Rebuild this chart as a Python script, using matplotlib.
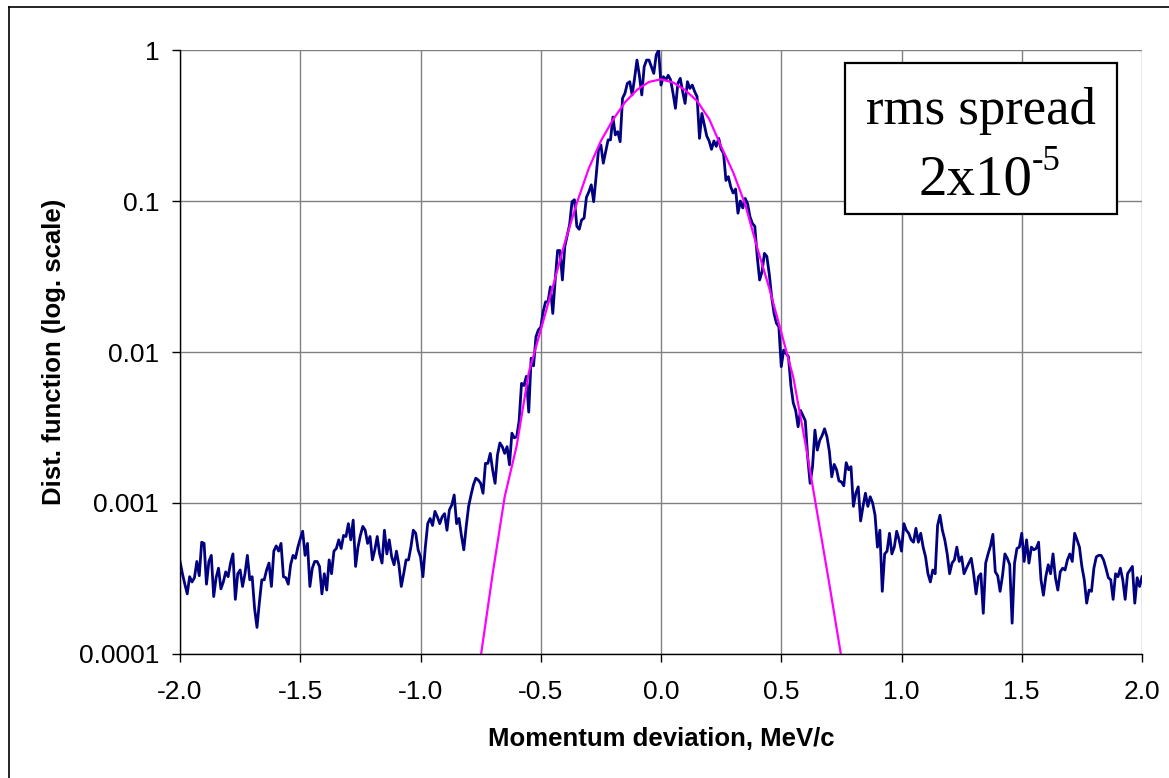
import numpy as np
import matplotlib
matplotlib.use("Agg")
import matplotlib.pyplot as plt
from matplotlib.patches import Rectangle
from matplotlib.lines import Line2D

plt.rcParams['font.family'] = ['Liberation Sans', 'DejaVu Sans']

# measured distribution, one value every 0.01 MeV/c from -2.0 to 2.0
p_start, p_step = -2.0, 0.01
dist_measured = [
    4.1e-4, 3.4e-4, 2.9e-4, 2.5e-4, 3.25e-4, 3.0e-4, 3.2e-4, 4.1e-4, 3.3e-4, 5.5e-4,
    5.4e-4, 2.9e-4, 4.1e-4, 4.5e-4, 2.4e-4, 3.2e-4, 3.7e-4, 2.7e-4, 3.0e-4, 3.5e-4,
    3.25e-4, 4.0e-4, 4.6e-4, 2.3e-4, 3.4e-4, 3.6e-4, 2.8e-4, 3.4e-4, 4.5e-4, 3.1e-4,
    3.25e-4, 2.0e-4, 1.5e-4, 2.2e-4, 3.1e-4, 3.1e-4, 3.6e-4, 4.0e-4, 2.8e-4, 4.8e-4,
    5.2e-4, 4.8e-4, 5.4e-4, 3.25e-4, 3.2e-4, 2.9e-4, 3.9e-4, 4.5e-4, 4.3e-4, 5.1e-4,
    5.8e-4, 6.5e-4, 4.5e-4, 5.4e-4, 2.8e-4, 3.7e-4, 4.1e-4, 4.1e-4, 3.8e-4, 2.5e-4,
    3.4e-4, 2.65e-4, 4.2e-4, 3.4e-4, 4.8e-4, 5.0e-4, 5.7e-4, 5.0e-4, 6.1e-4, 6.0e-4,
    7.3e-4, 5.7e-4, 7.7e-4, 3.8e-4, 5.1e-4, 6.1e-4, 7.0e-4, 6.6e-4, 5.4e-4, 6.0e-4,
    4.2e-4, 4.9e-4, 6.0e-4, 4.6e-4, 4.0e-4, 6.6e-4, 4.6e-4, 5.7e-4, 4.4e-4, 3.9e-4,
    4.8e-4, 3.9e-4, 2.8e-4, 3.4e-4, 4.2e-4, 4.2e-4, 5.1e-4, 6.6e-4, 6.3e-4, 4.9e-4,
    4.4e-4, 3.25e-4, 5.1e-4, 7.3e-4, 7.9e-4, 7.1e-4, 8.8e-4, 8.1e-4, 7.3e-4, 8.1e-4,
    8.5e-4, 6.6e-4, 9.0e-4, 9.7e-4, 1.13e-3, 7.3e-4, 7.9e-4, 6.1e-4, 4.9e-4, 7.0e-4,
    9.5e-4, 1.13e-3, 1.32e-3, 1.46e-3, 1.42e-3, 1.35e-3, 1.16e-3, 1.83e-3, 1.83e-3, 2.13e-3,
    1.65e-3, 1.35e-3, 2.08e-3, 2.5e-3, 2.36e-3, 2.13e-3, 2.36e-3, 1.79e-3, 2.9e-3, 2.7e-3,
    2.75e-3, 3.5e-3, 6.2e-3, 6.0e-3, 6.9e-3, 4.0e-3, 9.1e-3, 8.1e-3, 1.26e-2, 1.40e-2,
    1.46e-2, 1.85e-2, 2.15e-2, 2.15e-2, 2.7e-2, 1.8e-2, 3.0e-2, 4.7e-2, 4.7e-2, 3.0e-2,
    5.0e-2, 5.9e-2, 7.0e-2, 0.099, 0.102, 6.8e-2, 6.5e-2, 7.5e-2, 7.7e-2, 0.106,
    0.115, 0.128, 0.099, 0.145, 0.218, 0.235, 0.178, 0.212, 0.254, 0.254,
    0.36, 0.274, 0.288, 0.247, 0.479, 0.517, 0.601, 0.617, 0.504, 0.649,
    0.858, 0.68, 0.504, 0.775, 0.858, 0.858, 0.775, 0.70, 0.927, 1.0,
    0.586, 0.666, 0.633, 0.68, 0.633, 0.517, 0.411, 0.601, 0.649, 0.530,
    0.443, 0.617, 0.557, 0.586, 0.530, 0.491, 0.26, 0.38, 0.32, 0.27,
    0.25, 0.22, 0.25, 0.23, 0.26, 0.22, 0.207, 0.137, 0.145, 0.124,
    0.113, 0.12, 0.083, 0.10, 0.09, 0.104, 0.096, 0.0787, 0.071, 0.068,
    0.043, 0.030, 0.034, 0.045, 0.043, 0.033, 0.0232, 0.018, 0.0155, 0.0147,
    8.0e-3, 1.03e-2, 9.8e-3, 9.3e-3, 6.0e-3, 4.6e-3, 4.1e-3, 3.2e-3, 4.1e-3, 3.8e-3,
    3.5e-3, 2.0e-3, 1.35e-3, 1.74e-3, 3.04e-3, 2.24e-3, 2.6e-3, 2.8e-3, 3.1e-3, 2.75e-3,
    2.2e-3, 1.49e-3, 1.8e-3, 1.66e-3, 1.4e-3, 1.38e-3, 1.3e-3, 1.85e-3, 1.66e-3, 1.74e-3,
    9.5e-4, 1.16e-3, 1.28e-3, 7.6e-4, 9.5e-4, 1.16e-3, 9.5e-4, 1.1e-3, 1.0e-3, 8.3e-4,
    5.1e-4, 6.6e-4, 2.6e-4, 4.6e-4, 4.8e-4, 6.3e-4, 4.6e-4, 5.1e-4, 6.5e-4, 5.7e-4,
    4.8e-4, 7.3e-4, 6.6e-4, 6.3e-4, 5.7e-4, 5.5e-4, 6.8e-4, 5.5e-4, 6.3e-4, 5.1e-4,
    4.4e-4, 3.4e-4, 3.0e-4, 3.6e-4, 3.4e-4, 7.1e-4, 8.3e-4, 6.6e-4, 5.7e-4, 4.6e-4,
    3.4e-4, 4.0e-4, 4.2e-4, 5.1e-4, 4.1e-4, 4.4e-4, 3.4e-4, 3.7e-4, 4.0e-4, 4.3e-4,
    3.4e-4, 2.5e-4, 3.25e-4, 3.4e-4, 1.86e-4, 4.0e-4, 4.6e-4, 5.2e-4, 6.2e-4, 3.5e-4,
    3.3e-4, 2.6e-4, 3.3e-4, 4.6e-4, 4.3e-4, 3.9e-4, 1.6e-4, 4.0e-4, 5.0e-4, 5.1e-4,
    6.3e-4, 4.1e-4, 5.7e-4, 4.0e-4, 5.1e-4, 4.9e-4, 5.0e-4, 5.5e-4, 3.1e-4, 2.45e-4,
    3.25e-4, 3.9e-4, 3.4e-4, 4.6e-4, 3.2e-4, 2.65e-4, 3.5e-4, 3.7e-4, 3.6e-4, 4.2e-4,
    4.6e-4, 4.1e-4, 6.3e-4, 5.7e-4, 5.1e-4, 3.8e-4, 3.1e-4, 2.17e-4, 2.65e-4, 2.6e-4,
    3.7e-4, 4.4e-4, 4.5e-4, 4.5e-4, 4.2e-4, 3.7e-4, 3.2e-4, 3.1e-4, 2.3e-4, 3.4e-4,
    3.25e-4, 3.7e-4, 3.1e-4, 2.3e-4, 3.4e-4, 3.6e-4, 3.8e-4, 2.17e-4, 3.2e-4, 2.8e-4, 3.25e-4,
]

# fitted curve, read every 0.05 MeV/c from -0.75 to 0.75
fit_momentum = [-0.75, -0.70, -0.65, -0.60, -0.55, -0.50, -0.45, -0.40, -0.35, -0.30, -0.25,
                -0.20, -0.15, -0.10, -0.05, 0.00, 0.05, 0.10, 0.15, 0.20, 0.25,
                0.30, 0.35, 0.40, 0.45, 0.50, 0.55, 0.60, 0.65, 0.70, 0.75]
dist_fit = [9.5e-5, 3.4e-4, 1.1e-3, 2.4e-3, 7.3e-3, 1.4e-2, 2.7e-2, 5.3e-2, 0.097, 0.165, 0.25,
            0.345, 0.45, 0.545, 0.615, 0.64, 0.61, 0.543, 0.46, 0.35, 0.23,
            0.155, 0.095, 0.049, 0.0265, 0.0135, 6.8e-3, 2.5e-3, 8.5e-4, 2.9e-4, 9.5e-5]

x_ticks = [-2.0, -1.5, -1.0, -0.5, 0.0, 0.5, 1.0, 1.5, 2.0]
x_ticklabels = ['-2.0', '-1.5', '-1.0', '-0.5', '0.0', '0.5', '1.0', '1.5', '2.0']
y_ticks = [1e-4, 1e-3, 1e-2, 1e-1, 1]
y_ticklabels = ['0.0001', '0.001', '0.01', '0.1', '1']

momentum = p_start + p_step * np.arange(len(dist_measured))

fig = plt.figure(figsize=(11.69, 7.78), dpi=100)
ax = fig.add_axes([0.154, 0.1594, 0.8229, 0.7763])

ax.plot(momentum, dist_measured, color='#000080', lw=2.0, zorder=3)
ax.plot(fit_momentum, dist_fit, color='#ff00ff', lw=1.6, zorder=4)

ax.set_yscale('log')
ax.set_xlim(-2.0, 2.0)
ax.set_ylim(1e-4, 1)
ax.set_xticks(x_ticks)
ax.set_xticklabels(x_ticklabels)
ax.set_yticks(y_ticks)
ax.set_yticklabels(y_ticklabels)
ax.minorticks_off()
ax.grid(True, color='#808080', lw=1.0, zorder=1)
ax.tick_params(axis='both', direction='out', length=6, width=1, labelsize=19, color='black')
ax.tick_params(axis='x', pad=13)
ax.tick_params(axis='y', pad=9)
for s in ['top', 'right']:
    ax.spines[s].set_visible(False)
for s in ['left', 'bottom']:
    ax.spines[s].set_color('black')
    ax.spines[s].set_linewidth(1.0)
    ax.spines[s].set_zorder(5)

ax.set_xlabel('Momentum deviation, MeV/c', fontsize=18.5, fontweight='bold', labelpad=16)
ax.set_ylabel('Dist. function (log. scale)', fontsize=18.5, fontweight='bold', labelpad=9)

# annotation box
fig.patches.append(Rectangle((0.7228, 0.7249), 0.2327, 0.1941, transform=fig.transFigure,
                             facecolor='white', edgecolor='black', lw=1.6, zorder=10))
serif = ['Liberation Serif', 'DejaVu Serif']
fig.text(0.8394, 0.857, 'rms spread', family=serif, fontsize=38, ha='center', va='center', zorder=11)
fig.text(0.7853, 0.7685, '2x10', family=serif, fontsize=41, ha='left', va='center', zorder=11)
fig.text(0.8825, 0.793, '-5', family=serif, fontsize=25, ha='left', va='center', zorder=11)

# outer frame (left and top edges visible)
fig.add_artist(Line2D([0.0081, 0.0081], [0.0, 0.991], transform=fig.transFigure, color='black', lw=1.2))
fig.add_artist(Line2D([0.0081, 1.0], [0.991, 0.991], transform=fig.transFigure, color='black', lw=1.2))

fig.savefig('out.png', dpi=100)
